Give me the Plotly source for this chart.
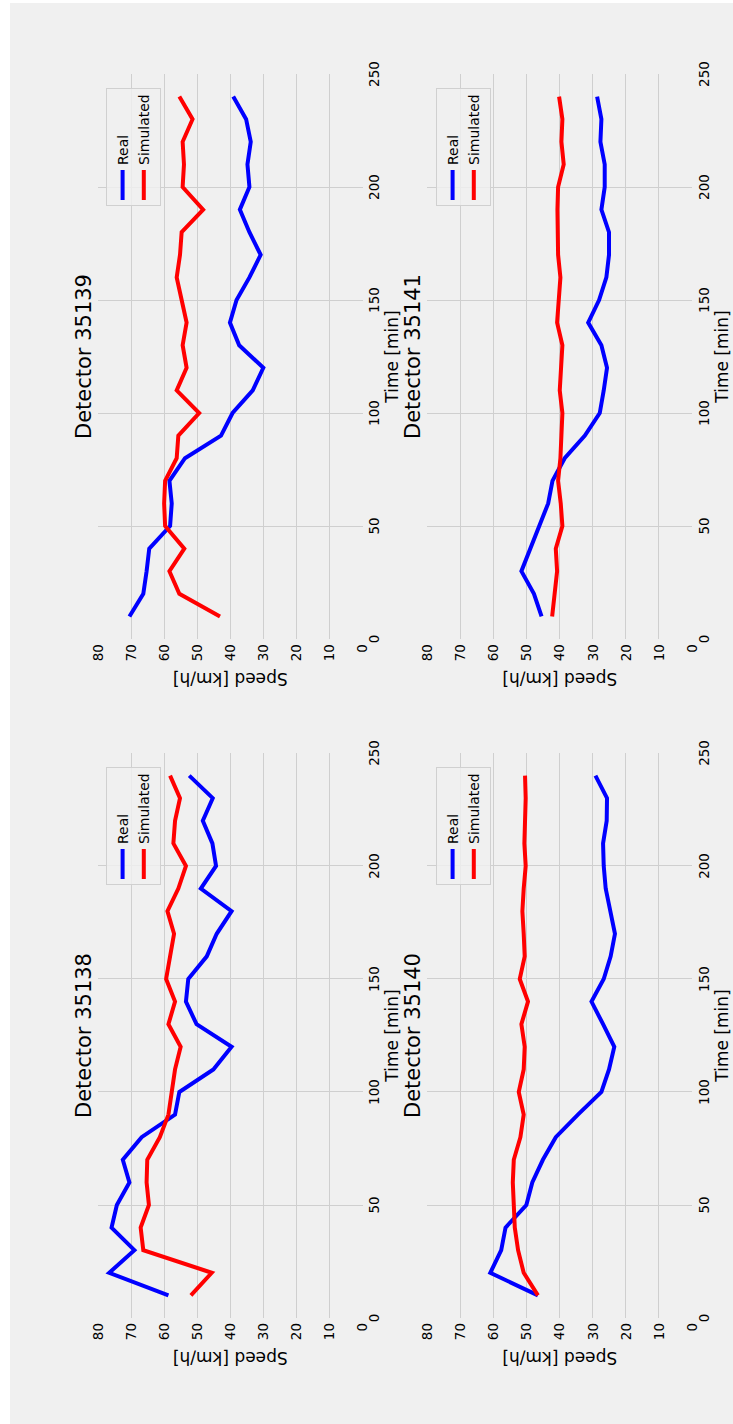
import plotly.graph_objects as go
from plotly.subplots import make_subplots

# Sampling times (minutes)
time_min = [10, 20, 30, 40, 50, 60, 70, 80, 90, 100, 110, 120,
            130, 140, 150, 160, 170, 180, 190, 200, 210, 220, 230, 240]

# Mean speeds per detector (km/h)
real_35138 = [58.7, 76.6, 69.0, 75.9, 74.3, 70.5, 72.5, 66.8, 56.7, 55.4, 45.1, 39.6,
              50.2, 53.4, 52.7, 47.1, 44.1, 39.6, 48.9, 44.3, 45.4, 48.3, 45.3, 52.4]
sim_35138 = [51.9, 45.6, 66.3, 67.1, 64.6, 65.3, 65.1, 61.3, 58.7, 57.7, 56.7, 55.0,
             58.7, 56.7, 59.4, 58.2, 57.0, 59.0, 55.7, 53.4, 57.2, 56.7, 55.2, 58.2]

real_35139 = [70.5, 66.3, 65.3, 64.5, 58.2, 57.7, 58.4, 53.7, 42.8, 39.3, 33.2, 30.0,
              37.3, 40.1, 38.1, 34.2, 30.8, 34.2, 37.1, 34.2, 34.8, 33.8, 35.2, 39.1]
sim_35139 = [43.1, 55.4, 58.4, 53.9, 59.7, 60.0, 59.7, 56.2, 55.7, 49.4, 56.2, 53.2,
             54.4, 53.2, 54.7, 56.2, 55.2, 54.7, 48.2, 54.4, 54.0, 54.4, 51.4, 55.4]

real_35140 = [46.6, 61.0, 57.7, 56.4, 50.1, 48.3, 45.1, 41.2, 34.5, 27.4, 25.1, 23.5,
              26.9, 30.4, 26.7, 24.6, 23.3, 24.6, 26.1, 26.7, 26.9, 25.8, 25.7, 29.2]
sim_35140 = [46.6, 50.9, 52.6, 53.6, 53.9, 54.2, 53.9, 51.9, 50.9, 52.4, 50.9, 50.6,
             51.6, 49.6, 52.1, 50.6, 50.9, 51.3, 50.9, 50.3, 50.7, 50.5, 50.3, 50.5]

real_35141 = [45.5, 47.8, 51.6, 48.9, 46.1, 43.5, 42.2, 38.5, 32.4, 27.9, 26.7, 25.7,
              27.4, 31.4, 28.1, 25.9, 25.1, 25.1, 27.4, 26.4, 26.4, 27.7, 27.4, 28.7]
sim_35141 = [42.3, 41.5, 40.8, 41.2, 39.2, 39.7, 40.5, 39.8, 39.5, 39.2, 40.0, 39.5,
             39.2, 40.8, 40.2, 39.8, 40.5, 40.7, 40.7, 40.5, 38.8, 39.5, 39.2, 40.2]

detector_ids = ["35138", "35139", "35140", "35141"]
real_series = [real_35138, real_35139, real_35140, real_35141]
sim_series = [sim_35138, sim_35139, sim_35140, sim_35141]

time_ticks = [0, 50, 100, 150, 200, 250]
speed_ticks = [0, 10, 20, 30, 40, 50, 60, 70, 80]

# Page geometry (landscape canvas, turned a quarter for display)
W, H = 1424, 733
ML, MR, MT, MB = 106, 74, 98, 41
BG = "#f0f0f0"
GRID = "#cfcfcf"
FONT = "DejaVu Sans"
plot_w = W - ML - MR
plot_h = H - MT - MB

fig = make_subplots(rows=2, cols=2, horizontal_spacing=0.0916, vertical_spacing=0.1094)

cells = [(1, 1), (1, 2), (2, 1), (2, 2)]
legend_names = ["legend", "legend2", "legend3", "legend4"]

for k, (row, col) in enumerate(cells):
    lg = legend_names[k]
    fig.add_trace(go.Scatter(x=time_min, y=real_series[k], mode="lines", name="Real",
                             line=dict(color="#0000ff", width=4), legend=lg),
                  row=row, col=col)
    fig.add_trace(go.Scatter(x=time_min, y=sim_series[k], mode="lines", name="Simulated",
                             line=dict(color="#ff0000", width=4), legend=lg),
                  row=row, col=col)

fig.update_xaxes(range=[0, 250], tickvals=time_ticks, showgrid=True, gridcolor=GRID,
                 gridwidth=1.3, zeroline=False, showline=False, ticks="",
                 tickfont=dict(family=FONT, size=13.5, color="#000"),
                 ticklabelstandoff=2, automargin=False,
                 title=dict(text="Time [min]", font=dict(family=FONT, size=17, color="#000"),
                            standoff=5))
fig.update_yaxes(range=[0, 80], tickvals=speed_ticks, showgrid=True, gridcolor=GRID,
                 gridwidth=1.3, zeroline=False, showline=False, ticks="",
                 tickfont=dict(family=FONT, size=13.5, color="#000"),
                 ticklabelstandoff=4, automargin=False,
                 title=dict(text="Speed [km/h]", font=dict(family=FONT, size=17, color="#000"),
                            standoff=6))

# Panel titles
axis_suffix = ["", "2", "3", "4"]
for k in range(4):
    s = axis_suffix[k]
    fig.add_annotation(text="Detector " + detector_ids[k], xref="x%s domain" % s,
                       yref="y%s domain" % s, x=0.5, y=1, xanchor="center", yanchor="bottom",
                       showarrow=False, yshift=0,
                       font=dict(family=FONT, size=21, color="#000"))

# Per-panel legends in the upper right
legend_style = dict(bgcolor="rgba(240,240,240,0.8)", bordercolor="#d0d0d0", borderwidth=1,
                    font=dict(family=FONT, size=14, color="#000"),
                    xanchor="left", yanchor="top", tracegroupgap=0)
leg_x = [(539 - ML) / plot_w, (1218 - ML) / plot_w]
leg_y = [1 - (106 - MT) / plot_h, 1 - (436 - MT) / plot_h]
layout_legends = {}
for k, (row, col) in enumerate(cells):
    layout_legends[legend_names[k]] = dict(legend_style, x=leg_x[col - 1], y=leg_y[row - 1])

# Figure background, inset on the top and right edges
fig.add_shape(type="rect", xref="paper", yref="paper", layer="below",
              x0=(0 - ML) / plot_w, x1=(W - 3 - ML) / plot_w,
              y0=1 - (H - MT) / plot_h, y1=1 - (10 - MT) / plot_h,
              fillcolor=BG, line=dict(width=0))

fig.update_layout(width=W, height=H, autosize=False,
                  margin=dict(l=ML, r=MR, t=MT, b=MB, pad=0),
                  paper_bgcolor="white", plot_bgcolor=BG,
                  showlegend=True, template="none",
                  **layout_legends)

# Present the landscape figure turned a quarter counter-clockwise
post = """
var gd = document.getElementById('{plot_id}');
document.documentElement.style.overflow = 'hidden';
document.body.style.margin = '0';
document.body.style.overflow = 'hidden';
gd.style.position = 'absolute';
gd.style.left = '0px';
gd.style.top = '0px';
gd.style.transformOrigin = '0 0';
gd.style.transform = 'rotate(-90deg) translateX(-100%)';
"""

fig.write_html("out.html", post_script=post, config={"displayModeBar": False})
